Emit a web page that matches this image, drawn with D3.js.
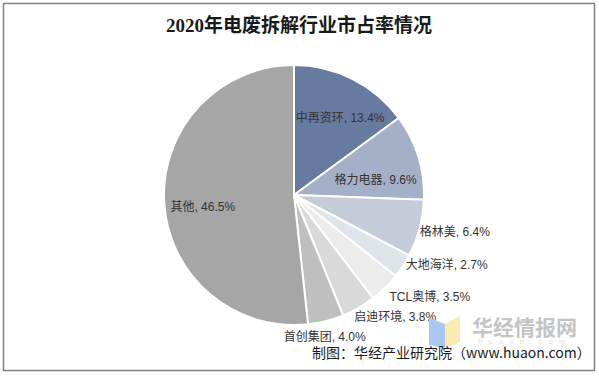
<!DOCTYPE html>
<html><head><meta charset="utf-8">
<script src="https://cdn.jsdelivr.net/npm/d3@7"></script>
<style>body{margin:0;background:#fff}svg{display:block}</style>
</head><body>
<script>
const title = "2020年电废拆解行业市占率情况";
const categories = ["中再资环","格力电器","格林美","大地海洋","TCL奥博","启迪环境","首创集团","其他"];
const values = [13.4, 9.6, 6.4, 2.7, 3.5, 3.8, 4.0, 46.5];
const colors = ["#677a9f","#a3b0c8","#c4cbd9","#dfe3ea","#ececec","#d9d9d9","#bfbfbf","#a6a6a6"];
// label placement: [radius, angle nudge in degrees]
const labelLayout = [[90,4],[83,6.7],[165,-2],[168,-8.5],[170,-8.6],[158,-10],[145,2],[92,-4.4]];
const source = "制图：华经产业研究院（www.huaon.com）";

const W = 599, H = 376;
const svg = d3.select("body").append("svg").attr("width", W).attr("height", H);

svg.append("rect").attr("x",3.5).attr("y",3.5).attr("width",591).attr("height",367)
  .attr("fill","#fff").attr("stroke","#808080").attr("stroke-width",1.5);

svg.append("text").attr("x",299).attr("y",32).attr("text-anchor","middle")
  .attr("font-family","'Liberation Serif','Noto Sans CJK SC',serif").attr("font-weight","bold")
  .attr("font-size",19).attr("fill","#1a1a1a").text(title);

const cx = 294, cy = 195, R = 130;
const data = categories.map((c,i)=>({name:c, value:values[i], i}));
const pie = d3.pie().value(d=>d.value).sort(null);
const arcs = pie(data);
const arc = d3.arc().innerRadius(0).outerRadius(R);
const g = svg.append("g").attr("transform",`translate(${cx},${cy})`);
g.selectAll("path").data(arcs).join("path")
  .attr("d", arc).attr("fill", d=>colors[d.data.i])
  .attr("stroke","#fff").attr("stroke-width",2).attr("stroke-linejoin","round");

g.selectAll("text.lbl").data(arcs).join("text").attr("class","lbl")
  .attr("transform", d=>{
    const [r, nudge] = labelLayout[d.data.i];
    const a = (d.startAngle + d.endAngle)/2 + nudge*Math.PI/180;
    return `translate(${r*Math.sin(a)},${-r*Math.cos(a)})`;
  })
  .attr("text-anchor","middle").attr("dy","0.35em")
  .attr("font-family","'Liberation Sans','Noto Sans CJK SC',sans-serif")
  .attr("font-size",12).attr("fill","#333")
  .text(d=>`${d.data.name}, ${d.data.value.toFixed(1)}%`);

// watermark
const wm = svg.append("g");
wm.append("path").attr("d","M429,318 L445,324 L445,348 L429,345 Z").attr("fill","#a9c9f2");
wm.append("path").attr("d","M445,324 L460,316 L460,342 L445,348 Z").attr("fill","#fcebb0");
wm.append("text").attr("x",472).attr("y",335)
  .attr("font-family","'Noto Sans CJK SC',sans-serif").attr("font-weight","bold")
  .attr("font-size",21).attr("fill","#c4c4c4").text("华经情报网");
wm.append("text").attr("x",478).attr("y",344).attr("letter-spacing",6)
  .attr("font-family","'Liberation Sans',sans-serif")
  .attr("font-size",8).attr("fill","#e2e2e2").text("huaon.com");

svg.append("text").attr("x",312).attr("y",358)
  .attr("font-family","'Noto Sans CJK SC','Liberation Sans',sans-serif")
  .attr("font-size",14).attr("fill","#1a1a1a").text(source);
</script>
</body></html>
